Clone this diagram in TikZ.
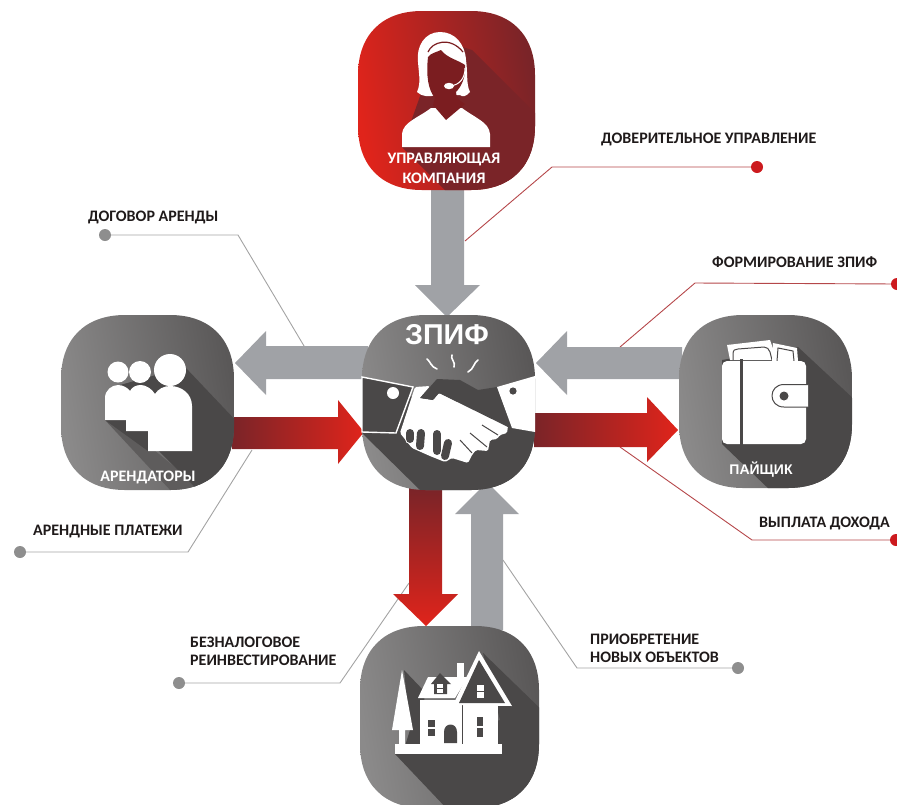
\documentclass[tikz,border=0pt]{standalone}
\usepackage{fontspec}
\setmainfont{Carlito}
\newfontfamily\arialf{Liberation Sans}
\definecolor{gshadow}{HTML}{4A4848}
\definecolor{gstrip}{HTML}{5E5C5C}
\definecolor{glight}{HTML}{8B8A8A}
\definecolor{gdark}{HTML}{5A5858}
\definecolor{rlight}{HTML}{E0241B}
\definecolor{rdark}{HTML}{7A2428}
\definecolor{rface}{HTML}{7B1D20}
\definecolor{arrgray}{HTML}{A0A2A6}
\definecolor{leadred}{HTML}{B5474A}
\definecolor{leadgray}{HTML}{A3A3A3}
\definecolor{dotred}{HTML}{CC1A1E}
\definecolor{dotgray}{HTML}{8E8E8E}
\definecolor{inktext}{HTML}{1F1A1A}
\newcommand{\sqp}[4]{(#1,{#2+64}) .. controls (#1,{#2+24}) and ({#1+24},#2) .. ({#1+64},#2) -- ({#3-64},#2) .. controls ({#3-24},#2) and (#3,{#2+24}) .. (#3,{#2+64}) -- (#3,{#4-64}) .. controls (#3,{#4-24}) and ({#3-24},#4) .. ({#3-64},#4) -- ({#1+64},#4) .. controls ({#1+24},#4) and (#1,{#4-24}) .. (#1,{#4-64}) -- cycle}
\tikzset{
  x=1pt,y=-1pt,
  grayarrow/.style={fill=arrgray,draw=none},
  redright/.style={left color=rdark,right color=rlight,draw=none},
  reddown/.style={top color=rdark,bottom color=rlight,draw=none},
  leadr/.style={draw=leadred,line width=0.9pt},
  leadg/.style={draw=leadgray,line width=0.9pt},
  dotr/.style={circle,fill=dotred,inner sep=0pt,minimum size=12pt},
  dotg/.style={circle,fill=dotgray,inner sep=0pt,minimum size=12pt},
  caption/.style={font=\fontsize{16}{18}\selectfont\bfseries,text=inktext,inner sep=0pt,align=left},
  boxlabel/.style={font=\fontsize{16}{20}\selectfont\bfseries,text=white,inner sep=0pt,align=center},
  ico/.style={fill=white,draw=none},
  icodark/.style={fill=gshadow,draw=none},
}
\begin{document}
\begin{tikzpicture}
\useasboundingbox (0,0) rectangle (897,804);
\clip (0,0) rectangle (897,804);
% leader lines
\node[dotr] (dA) at (757,167) {};
\coordinate (kA) at (552,167); \coordinate (eA) at (465,241);
\draw[leadr] (dA) -- (kA) -- (eA);
\node[dotg] (dB) at (105,235) {};
\coordinate (kB) at (238,235); \coordinate (eB) at (307,351);
\draw[leadg] (dB) -- (kB) -- (eB);
\node[dotr] (dC) at (897,284) {};
\coordinate (kC) at (695,283); \coordinate (eC) at (620,347);
\draw[leadr] (dC) -- (kC) -- (eC);
\node[dotr] (dD) at (896,540) {};
\coordinate (kD) at (752,540); \coordinate (eD) at (620,447);
\draw[leadr] (dD) -- (kD) -- (eD);
\node[dotg] (dE) at (20,552) {};
\coordinate (kE) at (188,552); \coordinate (eE) at (252,450);
\draw[leadg] (dE) -- (kE) -- (eE);
\node[dotg] (dF) at (179,683) {};
\coordinate (kF) at (340,683); \coordinate (eF) at (409,583);
\draw[leadg] (dF) -- (kF) -- (eF);
\node[dotg] (dG) at (738,668) {};
\coordinate (kG) at (577,668); \coordinate (eG) at (503,560);
\draw[leadg] (dG) -- (kG) -- (eG);
% arrows
\fill[grayarrow] (431,188) -- (464,188) -- (464,285) -- (480,285) -- (447,317) -- (415,285) -- (431,285) -- cycle;
\fill[grayarrow] (368,346) -- (266,346) -- (266,331) -- (235,363) -- (266,395) -- (266,379) -- (368,379) -- cycle;
\shade[redright] (232,417) -- (338,417) -- (338,400) -- (364,432) -- (338,464) -- (338,449) -- (232,449) -- cycle;
\fill[grayarrow] (682,347) -- (567,347) -- (567,331) -- (536,363) -- (567,395) -- (567,379) -- (682,379) -- cycle;
\shade[redright] (534,413) -- (647,413) -- (647,397) -- (678,430) -- (647,462) -- (647,447) -- (534,447) -- cycle;
\shade[reddown] (409,488) -- (442,488) -- (442,594) -- (458,594) -- (426,626) -- (393,594) -- (409,594) -- cycle;
\fill[grayarrow] (471,630) -- (503,630) -- (503,514) -- (519,514) -- (487,482) -- (455,514) -- (471,514) -- cycle;
% --- top box
\begin{scope}
\clip \sqp{358}{11}{535}{190};
\shade[left color=rlight,right color=rdark,shading angle=100] (358,11) rectangle (535,190);
\fill[rdark] (440,40) -- (472,50) -- (545,123) -- (545,195) -- (450,195) -- (402,147) -- cycle;
\end{scope}
% woman
\fill[ico] (402,147) -- (402,134) .. controls (403,122) and (418,118) .. (431,108) -- (462,108) .. controls (475,118) and (489,122) .. (490,134) -- (490,147) -- cycle;
\fill[ico] (440,32) .. controls (425,32) and (416,46) .. (418,62) .. controls (419,75) and (421,83) .. (417,92) .. controls (422,97) and (430,97) .. (436,95) -- (460,95) .. controls (462,97) and (466,97) .. (470,92) .. controls (466,84) and (468,74) .. (466,60) .. controls (465,44) and (455,32) .. (440,32) -- cycle;
\fill[rface] (428,57) .. controls (426,75) and (428,90) .. (435,98) -- (433,105) -- (446,120) -- (465,104) .. controls (458,100) and (456,96) .. (456,92) .. controls (462,86) and (466,76) .. (465,65) .. controls (458,60) and (447,58) .. (441,50) .. controls (437,52) and (431,53) .. (428,57) -- cycle;
\draw[rface,line width=1.2pt] (428,52) .. controls (432,42) and (450,36) .. (463,52);
\draw[white,line width=1pt] (465,68) .. controls (465,78) and (460,85) .. (450,86);
\fill[white] (449,86) ellipse [x radius=5pt,y radius=3.2pt];
% --- left box
\begin{scope}
\clip \sqp{61}{315}{234}{490};
\shade[left color=glight,right color=gdark,shading angle=100] (61,315) rectangle (234,490);
\fill[gstrip] (105,420) -- (172,492) -- (205,492) -- (148,445) -- cycle;
\fill[gshadow] (148,440) -- (200,492) -- (240,492) -- (240,425) -- (185,367) -- (120,385) -- (105,420) -- (148,451) -- cycle;
\end{scope}
\fill[ico] (118,372) circle (10.5pt);
\fill[ico] (140,372) circle (11pt);
\fill[ico] (170,370) circle (16pt);
\fill[ico] (105,420) -- (105,398) .. controls (105,390) and (112,385) .. (118,385) .. controls (123,385) and (128,388) .. (130,391) .. controls (132,387) and (136,385) .. (141,385) .. controls (146,385) and (152,389) .. (155,394) .. controls (158,389) and (164,386) .. (170,386) .. controls (182,386) and (192,394) .. (192,406) -- (192,451) -- (148,451) -- (148,431) -- (126,431) -- (126,420) -- cycle;
% --- right box
\begin{scope}
\clip \sqp{679}{315}{852}{488};
\shade[left color=glight,right color=gdark,shading angle=100] (679,315) rectangle (852,488);
\fill[gshadow] (798,347) -- (857,402) -- (857,492) -- (772,492) -- (722,444) -- (722,360) -- cycle;
\end{scope}
% wallet
\fill[ico] (727,345) -- (770,340) -- (777,360) -- (730,360) -- cycle;
\draw[gshadow,line width=1pt] (733,360) -- (733,354) .. controls (733,350) and (735,349) .. (738,349) -- (764,347) .. controls (767,347) and (769,349) .. (770,352) -- (772,360);
\fill[ico] (773,343) -- (797,348) -- (798,361) -- (772,361) -- cycle;
\draw[gshadow,line width=1pt] (777,361) -- (778,348) -- (793,351) -- (794,361);
\fill[ico,rounded corners=5pt] (722,361) rectangle (806,444);
\fill[gshadow] (739.5,359) rectangle (743,446);
\draw[gshadow,line width=1pt,fill=white] (808,384.5) -- (784,384.5) .. controls (768,384.5) and (768,407) .. (784,407) -- (808,407);
\fill[gshadow] (784,396) circle (4.5pt);
% --- centre box
\begin{scope}
\clip \sqp{362}{315}{535}{490};
\shade[left color=glight,right color=gdark,shading angle=100] (362,315) rectangle (535,490);
\fill[gshadow] (362,433) -- (422,492) -- (540,492) -- (540,430) -- (505,420) -- (420,390) -- cycle;
\end{scope}
% handshake
\draw[white,line width=1.6pt,line cap=round] (427,359) .. controls (430,361) and (431,367) .. (437,369);
\draw[white,line width=1.6pt,line cap=round] (452,355) .. controls (450,359) and (456,362) .. (454,367);
\draw[white,line width=1.6pt,line cap=round] (478,360) .. controls (474,362) and (474,369) .. (468,372);
% white hand
\fill[ico,rounded corners=1.5pt] (415,387) -- (430,386) -- (420,398) -- (433,400) -- (439,393) -- (508,426) -- (507,433) -- (500,435) -- (497,439) -- (490,440) -- (488,451) -- (476,450) -- (472,455) -- (468,463) -- (452,458) -- (445,462) -- (430,456) -- (412,448) -- (400,433) -- cycle;
\draw[gshadow,line width=1pt] (482,425) -- (498,435);
\draw[gshadow,line width=1pt] (470,433) -- (487,447);
\draw[gshadow,line width=1pt] (460,440) -- (472,453);
\foreach \cx/\cy/\ex/\ey in {410/433/410/439, 421/433/420/446, 437/434/437/451, 448/443/445/456}{
  \draw[white,line width=10pt,line cap=round] (\cx,\cy) -- (\ex,\ey);
  \draw[gshadow,line width=8pt,line cap=round] (\cx,\cy) -- (\ex,\ey);
}
% left cuff
\fill[gshadow,draw=white,line width=1.4pt] (362,377) -- (413,387) -- (396,433) -- (362,432) -- cycle;
\fill[ico] (393,393) circle (6pt);
% dark hand
\fill[icodark] (420,398) -- (437,379) -- (460,380) -- (478,390) -- (497,387) -- (512,428) -- (508,427) -- (439,393) -- (433,400) -- cycle;
% right cuff
\fill[ico] (497,387) -- (535,376) -- (535,432) -- (512,428) -- cycle;
\fill[icodark] (513,391) circle (3.6pt);
% --- bottom box
\begin{scope}
\clip \sqp{360}{626}{539}{808};
\shade[left color=glight,right color=gdark,shading angle=100] (360,626) rectangle (539,808);
\fill[gshadow] (483,653) -- (548,716) -- (548,812) -- (450,812) -- (395,754) -- (500,720) -- cycle;
\fill[gshadow] (404,670) -- (425,692) -- (420,746) -- (405,746) -- (410,730) -- cycle;
\end{scope}
% house
\fill[ico] (402,670) -- (413,730) -- (405,730) -- (405,745) -- (399,745) -- (399,730) -- (392,730) -- cycle;
\fill[ico] (395,744) rectangle (502,754);
\fill[ico] (457,663) rectangle (464,679);
\fill[ico] (428,677) -- (468,677) -- (455,698) -- (418,698) -- cycle;
\fill[ico] (420,700) rectangle (498,745);
\fill[icodark] (462,704) rectangle (463.2,744);
\fill[ico] (479,651) -- (512,706) -- (453,705) -- cycle;
\fill[icodark] (479,660) -- (505,703) -- (459,703) -- cycle;
\fill[ico] (477,685) rectangle (484,690.5);
\fill[ico] (477,692) rectangle (484,697.5);
\fill[icodark] (431,684) -- (440,673) -- (451,684) -- (447,684) -- (447,694) -- (434,694) -- (434,684) -- cycle;
\fill[ico] (437,684) rectangle (443,687.5);
\fill[ico] (437,689) rectangle (443,692.5);
\fill[icodark] (428,720) rectangle (435,726.5);
\fill[icodark] (428,729) rectangle (435,736);
\fill[icodark] (477,717) rectangle (483,726);
\fill[icodark] (477,728) rectangle (483,737);
\fill[icodark] (444,743) -- (444,732) .. controls (444,722) and (457,722) .. (457,732) -- (457,743) -- cycle;
% box labels
\node[boxlabel] (mgr) at (444,168) {УПРАВЛЯЮЩАЯ\\КОМПАНИЯ};
\node[boxlabel] (rent) at (148,477) {АРЕНДАТОРЫ};
\node[boxlabel,font=\arialf\fontsize{14}{16}\selectfont\bfseries] (inv) at (761,470) {ПАЙЩИК};
\node[boxlabel,font=\arialf\fontsize{28.7}{30}\selectfont\bfseries] (zpif) at (447,335) {ЗПИФ};
% captions
\node[caption,anchor=west] (c1) at (601,139) {ДОВЕРИТЕЛЬНОЕ УПРАВЛЕНИЕ};
\node[caption,anchor=west] (c2) at (88,217) {ДОГОВОР АРЕНДЫ};
\node[caption,anchor=west] (c3) at (712,262) {ФОРМИРОВАНИЕ ЗПИФ};
\node[caption,anchor=west] (c4) at (759,523) {ВЫПЛАТА ДОХОДА};
\node[caption,anchor=west] (c5) at (33,532) {АРЕНДНЫЕ ПЛАТЕЖИ};
\node[caption,anchor=west] (c6) at (190,651) {БЕЗНАЛОГОВОЕ\\РЕИНВЕСТИРОВАНИЕ};
\node[caption,anchor=west] (c7) at (590,648) {ПРИОБРЕТЕНИЕ\\НОВЫХ ОБЪЕКТОВ};
\end{tikzpicture}
\end{document}
